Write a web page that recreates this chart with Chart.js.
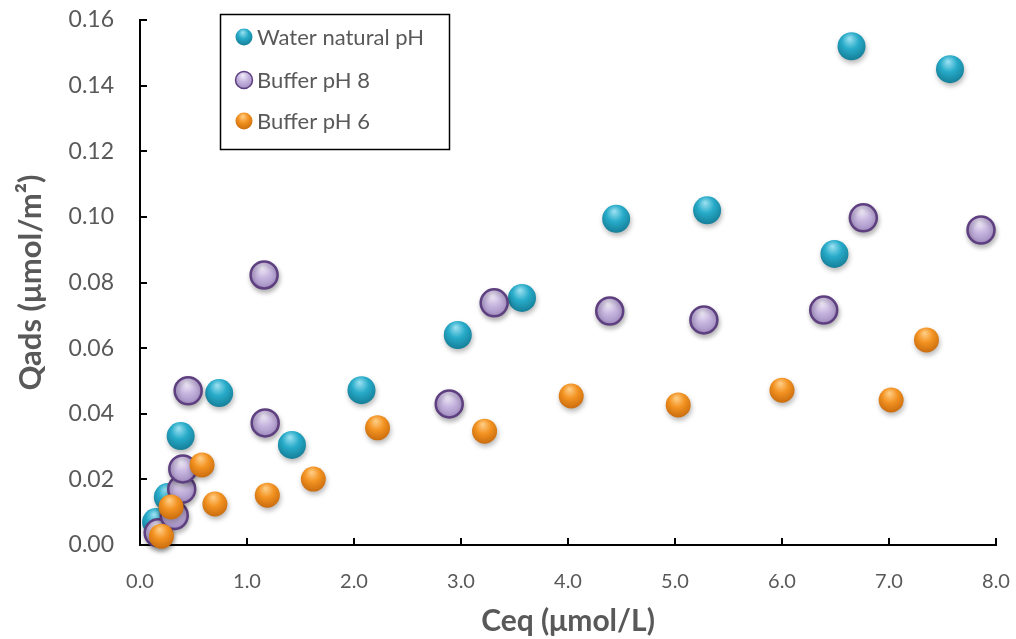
<!DOCTYPE html>
<html>
<head>
<meta charset="utf-8">
<script src="https://cdn.jsdelivr.net/npm/chart.js@4.4.1/dist/chart.umd.min.js"></script>
<style>
  html, body { margin: 0; padding: 0; background: #fff; }
  #wrap { width: 1016px; height: 639px; position: relative; }
</style>
</head>
<body>
<div id="wrap"><canvas id="chart"></canvas></div>
<script>
// values
const seriesNames = ['Water natural pH', 'Buffer pH 8', 'Buffer pH 6'];

const waterX = [0.15, 0.26, 0.38, 0.74, 1.42, 2.07, 2.97, 3.57, 4.45, 5.30, 6.49, 6.65, 7.57];
const waterY = [0.007, 0.0146, 0.0332, 0.0463, 0.0305, 0.0472, 0.064, 0.0753, 0.0994, 0.102, 0.0887, 0.152, 0.145];

const ph8X = [0.17, 0.32, 0.39, 0.40, 0.45, 1.16, 1.17, 2.89, 3.31, 4.39, 5.27, 6.39, 6.76, 7.86];
const ph8Y = [0.0037, 0.009, 0.017, 0.0232, 0.047, 0.0823, 0.0372, 0.043, 0.0738, 0.0713, 0.0686, 0.0716, 0.0997, 0.096];

const ph6X = [0.20, 0.29, 0.58, 0.70, 1.19, 1.62, 2.22, 3.22, 4.03, 5.03, 6.00, 7.02, 7.35];
const ph6Y = [0.0027, 0.0116, 0.0244, 0.0125, 0.0152, 0.0201, 0.0357, 0.0347, 0.0454, 0.0427, 0.0472, 0.0442, 0.0625];

const xTicks = [0, 1, 2, 3, 4, 5, 6, 7, 8];
const yTicks = [0, 0.02, 0.04, 0.06, 0.08, 0.10, 0.12, 0.14, 0.16];

// sphere shades: highlight, base, shadow
const shades = [
    ['#9fe2f2', '#27abc9', '#12768f'],
    ['#f3eefa', '#c7b6df', '#9c86bd'],
    ['#ffd08a', '#f39322', '#c2650a']
];

function toPoints(xs, ys) {
    return xs.map((x, i) => ({ x: x, y: ys[i] }));
}

function sphereFill(ctx2d, cx, cy, r, s) {
    const g = ctx2d.createRadialGradient(cx - r * 0.15, cy - r * 0.55, 0, cx, cy - r * 0.2, r * 1.35);
    g.addColorStop(0, s[0]);
    g.addColorStop(0.45, s[1]);
    g.addColorStop(1, s[2]);
    return g;
}

function makeFill(idx, r) {
    return function(context) {
        const chart = context.chart;
        const xs = chart.scales.x;
        const ys = chart.scales.y;
        if (!xs || !ys || !context.raw || context.raw.x === undefined) return shades[idx][1];
        const px = xs.getPixelForValue(context.raw.x);
        const py = ys.getPixelForValue(context.raw.y);
        if (!isFinite(px) || !isFinite(py)) return shades[idx][1];
        return sphereFill(chart.ctx, px, py, r, shades[idx]);
    };
}

// soft drop shadow under the spheres
const softShadow = {
    id: 'softShadow',
    beforeDatasetsDraw(chart) {
        const ctx = chart.ctx;
        ctx.save();
        ctx.shadowColor = 'rgba(0,0,0,0.28)';
        ctx.shadowBlur = 5;
        ctx.shadowOffsetX = 1;
        ctx.shadowOffsetY = 3;
    },
    afterDatasetsDraw(chart) {
        chart.ctx.restore();
    }
};

const tickMarks = {
    id: 'tickMarks',
    afterDraw(chart) {
        const ctx = chart.ctx;
        const area = chart.chartArea;
        ctx.save();
        ctx.strokeStyle = '#000';
        ctx.lineWidth = 2;
        xTicks.forEach(v => {
            const p = Math.round(chart.scales.x.getPixelForValue(v));
            ctx.beginPath();
            ctx.moveTo(p, area.bottom);
            ctx.lineTo(p, area.bottom - 7);
            ctx.stroke();
        });
        yTicks.forEach(v => {
            const p = Math.round(chart.scales.y.getPixelForValue(v));
            ctx.beginPath();
            ctx.moveTo(area.left, p);
            ctx.lineTo(area.left + 7, p);
            ctx.stroke();
        });
        ctx.restore();
    }
};

const boxLegend = {
    id: 'boxLegend',
    afterDraw(chart) {
        const ctx = chart.ctx;
        ctx.save();
        ctx.strokeStyle = '#000';
        ctx.lineWidth = 1.5;
        ctx.strokeRect(220.5, 14.5, 229, 135);
        ctx.font = '22px Lato';
        ctx.textBaseline = 'middle';
        const rows = [37, 80, 121];
        chart.data.datasets.forEach((ds, i) => {
            const cx = 244, cy = rows[i], r = 8.5;
            ctx.beginPath();
            ctx.arc(cx, cy, r, 0, Math.PI * 2);
            ctx.fillStyle = sphereFill(ctx, cx, cy, r, shades[i]);
            ctx.fill();
            if (i === 1) {
                ctx.strokeStyle = '#5e3f80';
                ctx.lineWidth = 1.5;
                ctx.stroke();
            }
            ctx.fillStyle = '#595959';
            ctx.fillText(ds.label, 257, cy + 1);
        });
        ctx.restore();
    }
};

new Chart(document.getElementById('chart'), {
    type: 'scatter',
    data: {
        datasets: [
            {
                label: seriesNames[0],
                data: toPoints(waterX, waterY),
                pointRadius: 14,
                pointBorderWidth: 0,
                pointBorderColor: 'rgba(0,0,0,0)',
                backgroundColor: makeFill(0, 14),
                order: 3
            },
            {
                label: seriesNames[1],
                data: toPoints(ph8X, ph8Y),
                pointRadius: 13.5,
                pointBorderWidth: 2.5,
                pointBorderColor: '#5e3f80',
                backgroundColor: makeFill(1, 13.5),
                order: 2
            },
            {
                label: seriesNames[2],
                data: toPoints(ph6X, ph6Y),
                pointRadius: 12.5,
                pointBorderWidth: 0,
                pointBorderColor: 'rgba(0,0,0,0)',
                backgroundColor: makeFill(2, 12.5),
                order: 1
            }
        ]
    },
    options: {
        responsive: true,
        maintainAspectRatio: false,
        animation: false,
        clip: false,
        layout: { autoPadding: false, padding: { top: 20, right: 20, left: 0, bottom: 0 } },
        plugins: {
            legend: { display: false },
            tooltip: { enabled: false }
        },
        scales: {
            x: {
                type: 'linear',
                min: 0,
                max: 8,
                afterBuildTicks: (scale) => { scale.ticks = xTicks.map(v => ({ value: v })); },
                afterFit: (scale) => {
                    scale.height = 94;
                    scale.paddingLeft = 0;
                    scale.paddingRight = 0;
                },
                grid: { display: false },
                border: { display: true, color: '#000', width: 2 },
                ticks: {
                    color: '#595959',
                    font: { family: 'Lato', size: 20 },
                    padding: 17,
                    callback: (v) => Number(v).toFixed(1)
                },
                title: {
                    display: true,
                    text: 'Ceq (μmol/L)',
                    color: '#595959',
                    font: { family: 'Lato', size: 30, weight: 'bold' },
                    padding: { top: 0, bottom: 0 }
                }
            },
            y: {
                type: 'linear',
                min: 0,
                max: 0.16,
                afterBuildTicks: (scale) => { scale.ticks = yTicks.map(v => ({ value: v })); },
                afterFit: (scale) => {
                    scale.width = 140;
                    scale.paddingTop = 0;
                    scale.paddingBottom = 0;
                },
                grid: { display: false },
                border: { display: true, color: '#000', width: 2 },
                ticks: {
                    color: '#595959',
                    font: { family: 'Lato', size: 23 },
                    padding: 18,
                    callback: (v) => Number(v).toFixed(2)
                },
                title: {
                    display: true,
                    text: 'Qads (μmol/m²)',
                    color: '#595959',
                    font: { family: 'Lato', size: 31, weight: 'bold' },
                    padding: { top: 12, bottom: 0 }
                }
            }
        }
    },
    plugins: [softShadow, tickMarks, boxLegend]
});
</script>
</body>
</html>
